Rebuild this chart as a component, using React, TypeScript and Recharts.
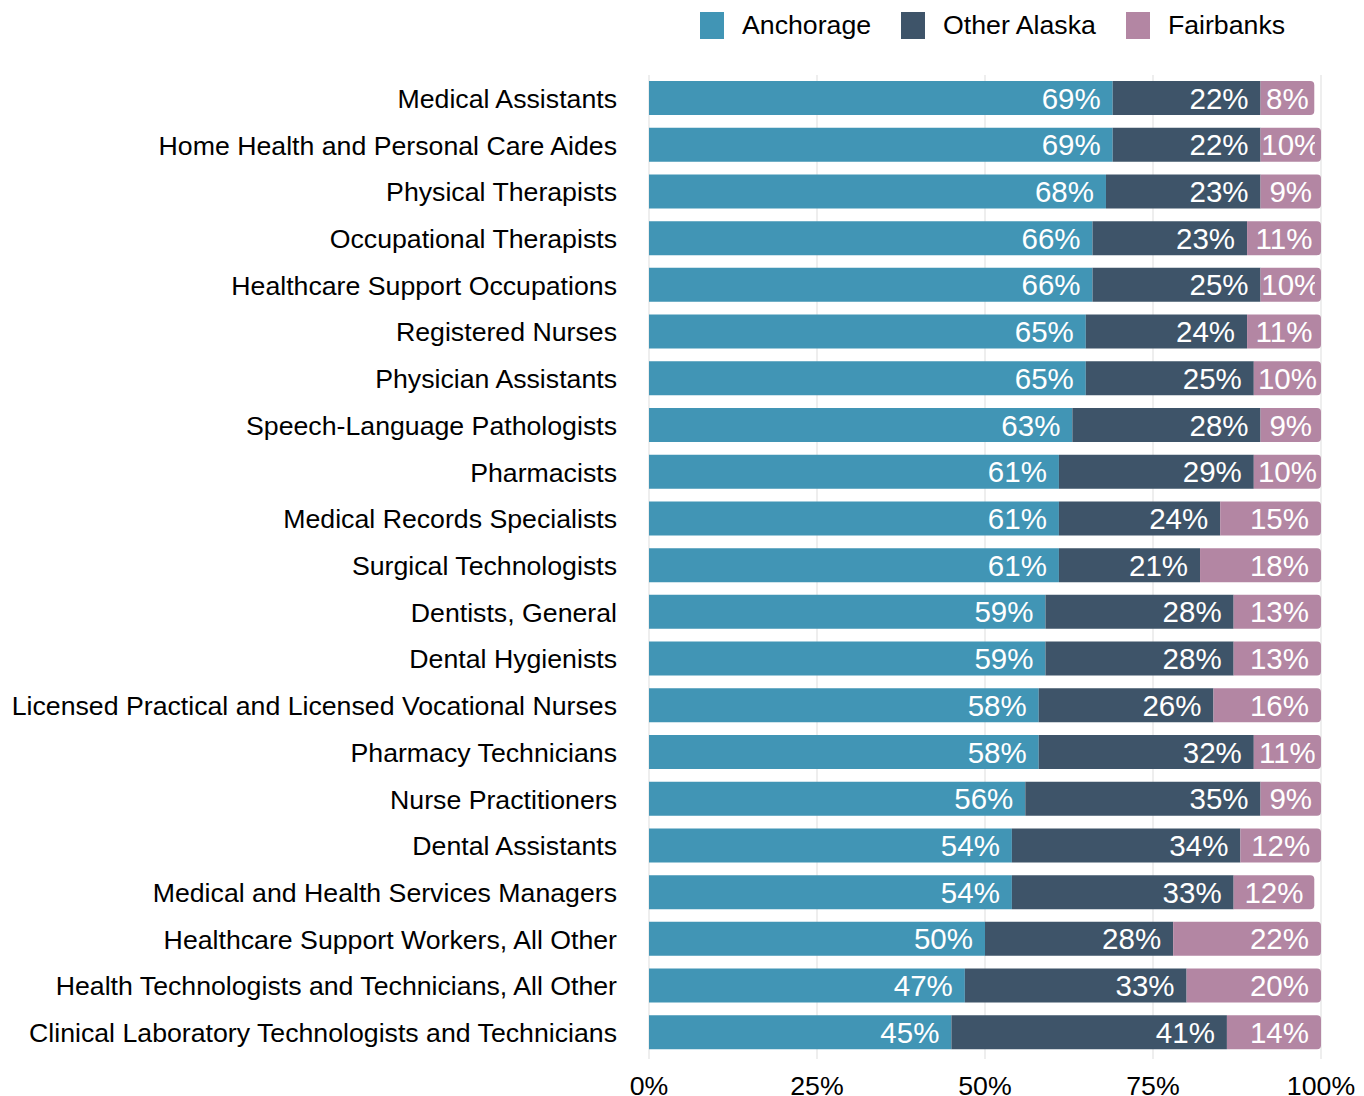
import { BarChart, Bar, XAxis, YAxis, CartesianGrid, LabelList } from "recharts";

const categories = [
  "Medical Assistants",
  "Home Health and Personal Care Aides",
  "Physical Therapists",
  "Occupational Therapists",
  "Healthcare Support Occupations",
  "Registered Nurses",
  "Physician Assistants",
  "Speech-Language Pathologists",
  "Pharmacists",
  "Medical Records Specialists",
  "Surgical Technologists",
  "Dentists, General",
  "Dental Hygienists",
  "Licensed Practical and Licensed Vocational Nurses",
  "Pharmacy Technicians",
  "Nurse Practitioners",
  "Dental Assistants",
  "Medical and Health Services Managers",
  "Healthcare Support Workers, All Other",
  "Health Technologists and Technicians, All Other",
  "Clinical Laboratory Technologists and Technicians",
];

const anchorage = [69, 69, 68, 66, 66, 65, 65, 63, 61, 61, 61, 59, 59, 58, 58, 56, 54, 54, 50, 47, 45];
const otherAlaska = [22, 22, 23, 23, 25, 24, 25, 28, 29, 24, 21, 28, 28, 26, 32, 35, 34, 33, 28, 33, 41];
const fairbanks = [8, 10, 9, 11, 10, 11, 10, 9, 10, 15, 18, 13, 13, 16, 11, 9, 12, 12, 22, 20, 14];

const xTicks = [0, 25, 50, 75, 100];

const series = [
  { key: "anchorage", name: "Anchorage", color: "#4195b5", values: anchorage },
  { key: "otherAlaska", name: "Other Alaska", color: "#3e5469", values: otherAlaska },
  { key: "fairbanks", name: "Fairbanks", color: "#b386a3", values: fairbanks },
];

const data = categories.map((name, i) => ({
  name,
  anchorage: anchorage[i],
  otherAlaska: otherAlaska[i],
  fairbanks: fairbanks[i],
}));

const FONT = '"Liberation Sans", Arial, Helvetica, sans-serif';
const LABEL_SIZE = 29.5;
const PAD = 12;

// label inside the segment: right aligned if it fits, centred otherwise, clipped at 100%
function makeLabel(seriesIndex: number) {
  return (props: any) => {
    const vb = props.viewBox || props;
    const x = Number(vb.x);
    const y = Number(vb.y);
    const w = Number(vb.width);
    const h = Number(vb.height);
    const index = props.index;
    if (index == null || !isFinite(x) || !isFinite(w)) return null;
    const v = series[seriesIndex].values[index];
    let start = 0;
    for (let s = 0; s < seriesIndex; s++) start += series[s].values[index];
    const pxPer = w / v;
    const plotRight = x - start * pxPer + 100 * pxPer;
    const text = `${v}%`;
    const textW = LABEL_SIZE * (0.556 * String(v).length + 0.889);
    const fits = textW + PAD * 2 <= w;
    const cx = fits ? x + w - PAD : x + w / 2;
    const id = `lbl-clip-${seriesIndex}-${index}`;
    return (
      <g key={id}>
        <defs>
          <clipPath id={id}>
            <rect x={x} y={y - 4} width={Math.max(0, plotRight - x)} height={h + 8} />
          </clipPath>
        </defs>
        <text
          x={cx}
          y={y + h / 2 + LABEL_SIZE * 0.36}
          textAnchor={fits ? "end" : "middle"}
          fill="#ffffff"
          fontSize={LABEL_SIZE}
          fontFamily={FONT}
          clipPath={`url(#${id})`}
        >
          {text}
        </text>
      </g>
    );
  };
}

export default function App() {
  return (
    <div
      style={{
        position: "absolute",
        left: 0,
        top: 0,
        width: 1364,
        height: 1096,
        background: "#fff",
        fontFamily: FONT,
        overflow: "hidden",
      }}
    >
      {/* Legend */}
      <div
        style={{
          position: "absolute",
          left: 700,
          top: 12,
          display: "flex",
          alignItems: "flex-start",
          gap: 30,
          fontSize: 26.7,
          lineHeight: "27px",
          color: "#000",
        }}
      >
        {series.map((s) => (
          <div key={s.key} style={{ display: "flex", alignItems: "flex-start" }}>
            <span style={{ width: 24, height: 27, background: s.color, marginRight: 18, display: "inline-block" }} />
            <span>{s.name}</span>
          </div>
        ))}
      </div>

      <BarChart
        width={1364}
        height={1096}
        data={data}
        layout="vertical"
        margin={{ top: 75, right: 43, bottom: 10, left: 0 }}
        barSize={34}
      >
        <CartesianGrid horizontal={false} stroke="#dddddd" />
        <XAxis
          type="number"
          domain={[0, 100]}
          ticks={xTicks}
          allowDataOverflow
          tickFormatter={(v) => `${v}%`}
          axisLine={false}
          tickLine={{ stroke: "#dddddd" }}
          tickSize={3}
          tickMargin={17}
          height={30}
          tick={{ fontSize: 26.7, fill: "#000", fontFamily: FONT }}
        />
        <YAxis
          type="category"
          dataKey="name"
          width={649}
          interval={0}
          axisLine={false}
          tickLine={false}
          tickSize={0}
          tickMargin={32}
          tick={{ fontSize: 26.7, fill: "#000", fontFamily: FONT }}
        />
        {series.map((s, si) => (
          <Bar
            key={s.key}
            dataKey={s.key}
            name={s.name}
            stackId="a"
            fill={s.color}
            radius={si === series.length - 1 ? [0, 4, 4, 0] : 0}
            isAnimationActive={false}
          >
            <LabelList dataKey={s.key} content={makeLabel(si)} />
          </Bar>
        ))}
      </BarChart>
    </div>
  );
}
